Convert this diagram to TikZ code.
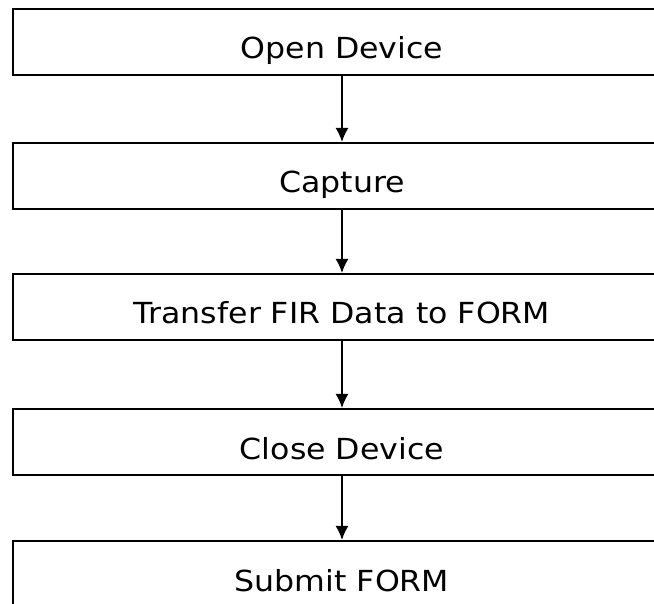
\documentclass[tikz,border=0pt]{standalone}
\usepackage{fontspec}
\setmainfont{DejaVu Sans}[FakeStretch=1.09]
\usetikzlibrary{arrows.meta}

\begin{document}
\begin{tikzpicture}[x=1pt,y=-1pt]
	\tikzset{stage/.style={draw,line width=2.2pt,minimum width=658pt,minimum height=66pt,inner sep=0pt,text height=34pt,text depth=0pt,font=\fontsize{29}{32}\selectfont}}
	\useasboundingbox (0,0) rectangle (654,604);
	\coordinate (A) at (342,42);
	\coordinate (B) at (342,176);
	\coordinate (C) at (342,307);
	\coordinate (D) at (342,442);
	\coordinate (E) at (342,574);
	\node[stage] (open) at (A) {Open Device};
	\node[stage] (capture) at (B) {Capture};
	\node[stage] (transfer) at (C) {Transfer FIR Data to FORM};
	\node[stage] (close) at (D) {Close Device};
	\node[stage] (submit) at (E) {Submit FORM};
	\draw[line width=1.4pt,-{Latex[length=14pt,width=13pt]}] (open)--(capture);
	\draw[line width=1.4pt,-{Latex[length=14pt,width=13pt]}] (capture)--(transfer);
	\draw[line width=1.4pt,-{Latex[length=14pt,width=13pt]}] (transfer)--(close);
	\draw[line width=1.4pt,-{Latex[length=14pt,width=13pt]}] (close)--(submit);
\end{tikzpicture}
\end{document}
